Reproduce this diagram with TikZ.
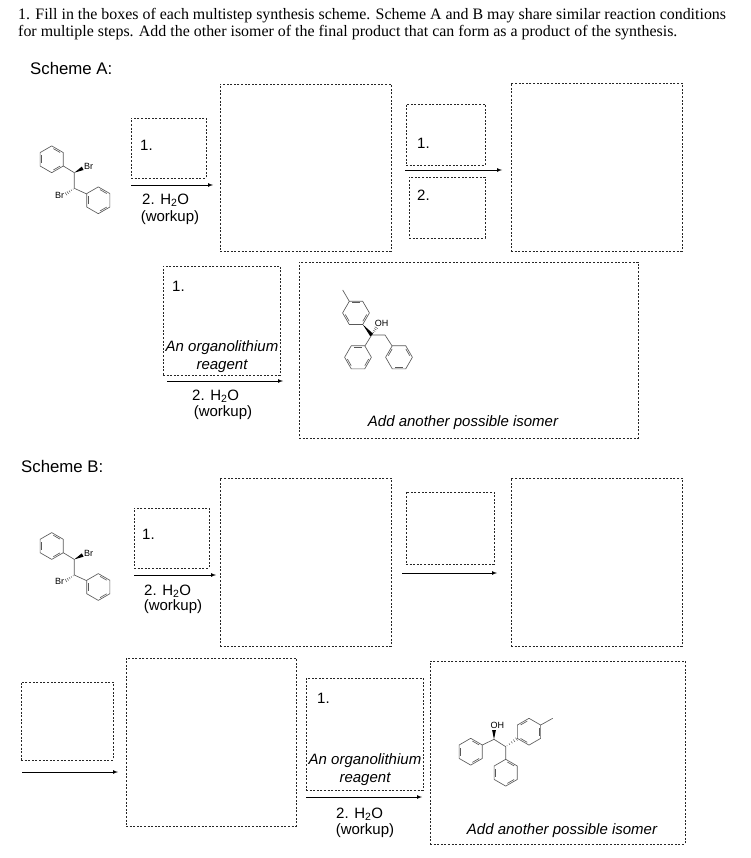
\documentclass[tikz,border=0pt]{standalone}
\usepackage{fontspec}
\setmainfont{Liberation Serif}
\setsansfont{Liberation Sans}
\usetikzlibrary{calc}
\tikzset{
	bond/.style={line width=0.65pt,black!65,line join=round},
	dashbox/.style={draw,line width=0.7pt,black!85,dash pattern=on 2pt off 1.6pt,inner sep=0pt},
	reagent/.style={font=\sffamily\fontsize{15}{15}\selectfont,inner sep=0pt,align=center},
	italictext/.style={font=\sffamily\itshape\fontsize{15}{18}\selectfont,inner sep=0pt,align=center},
	atomlabel/.style={font=\sffamily\fontsize{9}{9}\selectfont,inner sep=0pt},
	scheme/.style={font=\sffamily\fontsize{16.8}{18}\selectfont,inner sep=0pt,anchor=west},
	rxnarrow/.style={line width=0.7pt,-latex},
	phring/.pic={
		\draw[bond] (30:13.4) -- (90:13.4) -- (150:13.4) -- (210:13.4) -- (270:13.4) -- (330:13.4) -- cycle;
		\foreach \a in {30,150,270}
			\draw[bond] ({\a+9}:10.8) -- ({\a+51}:10.8);
	},
	dibromide/.pic={
		% carbon chain with its two rings
		\coordinate (c1) at (22.6,13.4);
		\coordinate (c2) at (22.6,29);
		\coordinate (v1) at (11.6,6.7);
		\coordinate (v2) at (35,34.7);
		\coordinate (br1) at (31,9);
		\coordinate (br2) at (13.6,35);
		\pic at (0,0) {phring};
		\pic at (46.6,41) {phring};
		\draw[bond] (v1) -- (c1) -- (c2) -- (v2);
		\wedgebond{c1}{br1}
		\hashbond{c2}{br2}
		\node[atomlabel] (brtop) at (37,7.4) {Br};
		\node[atomlabel] (brlow) at (8,35.7) {Br};
	}
}
% wedge and hashed bonds, narrow at the first point
\newcommand{\wedgebond}[2]{
	\fill[black] (#1) -- ($(#2)!1.9pt!90:(#1)$) -- ($(#2)!1.9pt!-90:(#1)$) -- cycle;
}
\newcommand{\hashbond}[2]{
	\foreach \t in {0.12,0.32,0.52,0.72,0.92}{
		\pgfmathsetmacro{\w}{0.2+\t*1.7}
		\draw[line width=0.45pt,black!70] ($(#1)!\t!(#2)!\w pt!90:(#2)$) -- ($(#1)!\t!(#2)!-\w pt!90:(#2)$);
	}
}
\begin{document}
\begin{tikzpicture}[x=1pt,y=-1pt]
	\useasboundingbox (0,0) rectangle (750,858);

	% question text
	\node [anchor=north west,inner sep=0pt,align=left,font=\fontsize{15.93}{17}\selectfont] (question) at (18,8) {1. Fill in the boxes of each multistep synthesis scheme. Scheme A and B may share similar reaction conditions\\for multiple steps. Add the other isomer of the final product that can form as a product of the synthesis.};

	% scheme A
	\node [scheme] (schemeA) at (30,68) {Scheme A:};
	\pic at (51.7,159.3) {dibromide};

	\node [dashbox,minimum width=75pt,minimum height=60pt] (boxAa) at (168.5,148) {};
	\node [dashbox,minimum width=171pt,minimum height=167pt] (boxAb) at (305.5,167.5) {};
	\node [dashbox,minimum width=79pt,minimum height=61pt] (boxAc) at (445.5,134.5) {};
	\node [dashbox,minimum width=76pt,minimum height=61pt] (boxAd) at (447,207.5) {};
	\node [dashbox,minimum width=171pt,minimum height=168pt] (boxAe) at (596.5,167) {};
	\node [dashbox,minimum width=117pt,minimum height=109pt] (boxAf) at (221.5,320.5) {};
	\node [dashbox,minimum width=339pt,minimum height=176pt] (boxAg) at (468.5,350) {};

	\node [reagent,anchor=west] (oneAa) at (140,145) {1.};
	\node [reagent,anchor=west] (twoAa) at (142,200) {2. H\textsubscript{2}O};
	\node [reagent] (workAa) at (170,217.5) {(workup)};
	\node [reagent,anchor=west] (oneAc) at (417,143) {1.};
	\node [reagent,anchor=west] (twoAd) at (417,195) {2.};
	\node [reagent,anchor=west] (oneAf) at (172,286) {1.};
	\node [italictext] (orgA) at (222,357) {An organolithium\\reagent};
	\node [reagent,anchor=west] (twoAf) at (192,396) {2. H\textsubscript{2}O};
	\node [reagent] (workAf) at (223,412.5) {(workup)};
	\node [italictext] (addA) at (463,423) {Add another possible isomer};

	\coordinate (arrAas) at (131,185);
	\coordinate (arrAae) at (213,185);
	\coordinate (arrAbs) at (405,170);
	\coordinate (arrAbe) at (502,170);
	\coordinate (arrAcs) at (167,381);
	\coordinate (arrAce) at (283,381);
	\draw [rxnarrow] (arrAas) -- (arrAae);
	\draw [rxnarrow] (arrAbs) -- (arrAbe);
	\draw [rxnarrow] (arrAcs) -- (arrAce);

	% isomer in scheme A
	\coordinate (meA) at (342.7,290);
	\coordinate (ipA) at (349.3,301.3);
	\coordinate (paA) at (362.7,324.4);
	\coordinate (coA) at (371.7,335);
	\coordinate (chA) at (385,335);
	\coordinate (pbA) at (365,345.8);
	\coordinate (pcA) at (392,345.8);
	\coordinate (ohA) at (376.6,327);
	\pic [rotate=30] at (356,312.9) {phring};
	\pic [rotate=30] at (358,357.3) {phring};
	\pic [rotate=-30] at (399,357.3) {phring};
	\draw [bond] (meA) -- (ipA);
	\draw [bond] (pbA) -- (coA) -- (chA) -- (pcA);
	\wedgebond{paA}{coA}
	\hashbond{coA}{ohA}
	\node [atomlabel] (ohlabA) at (381.7,323.3) {OH};

	% scheme B
	\node [scheme] (schemeB) at (21,466) {Scheme B:};
	\pic at (51.7,546) {dibromide};

	\node [dashbox,minimum width=75pt,minimum height=60pt] (boxBa) at (171.5,538) {};
	\node [dashbox,minimum width=171pt,minimum height=168pt] (boxBb) at (305.5,562) {};
	\node [dashbox,minimum width=88pt,minimum height=72pt] (boxBc) at (450,528) {};
	\node [dashbox,minimum width=171pt,minimum height=168pt] (boxBd) at (596.5,562) {};
	\node [dashbox,minimum width=92pt,minimum height=78pt] (boxBe) at (67,721) {};
	\node [dashbox,minimum width=170pt,minimum height=168pt] (boxBf) at (211,742) {};
	\node [dashbox,minimum width=117pt,minimum height=112pt] (boxBg) at (364.5,734) {};
	\node [dashbox,minimum width=255pt,minimum height=183pt] (boxBh) at (557.5,752.5) {};

	\node [reagent,anchor=west] (oneBa) at (142,534) {1.};
	\node [reagent,anchor=west] (twoBa) at (144,591) {2. H\textsubscript{2}O};
	\node [reagent] (workBa) at (173,607) {(workup)};
	\node [reagent,anchor=west] (oneBg) at (317,698) {1.};
	\node [italictext] (orgB) at (365,770) {An organolithium\\reagent};
	\node [reagent,anchor=west] (twoBg) at (336,814) {2. H\textsubscript{2}O};
	\node [reagent] (workBg) at (365,831) {(workup)};
	\node [italictext] (addB) at (562,831) {Add another possible isomer};

	\coordinate (arrBas) at (134,575);
	\coordinate (arrBae) at (216,575);
	\coordinate (arrBbs) at (402,573);
	\coordinate (arrBbe) at (497,573);
	\coordinate (arrBcs) at (22,772);
	\coordinate (arrBce) at (118,772);
	\coordinate (arrBds) at (306,797);
	\coordinate (arrBde) at (422,797);
	\draw [rxnarrow] (arrBas) -- (arrBae);
	\draw [rxnarrow] (arrBbs) -- (arrBbe);
	\draw [rxnarrow] (arrBcs) -- (arrBce);
	\draw [rxnarrow] (arrBds) -- (arrBde);

	% isomer in scheme B
	\coordinate (coB) at (494,739.3);
	\coordinate (chB) at (505.7,746.7);
	\coordinate (paB) at (482.3,745);
	\coordinate (pbB) at (505.7,759.3);
	\coordinate (pcB) at (517.4,738.4);
	\coordinate (ohB) at (494,730);
	\coordinate (ipB) at (540.7,725);
	\coordinate (meB) at (552.7,718.3);
	\pic at (470.7,751.7) {phring};
	\pic at (505.7,772.7) {phring};
	\pic [rotate=60] at (529,731.7) {phring};
	\draw [bond] (paB) -- (coB) -- (chB) -- (pbB);
	\draw [bond] (ipB) -- (meB);
	\wedgebond{coB}{ohB}
	\hashbond{chB}{pcB}
	\node [atomlabel] (ohlabB) at (497.3,725) {OH};
\end{tikzpicture}
\end{document}
